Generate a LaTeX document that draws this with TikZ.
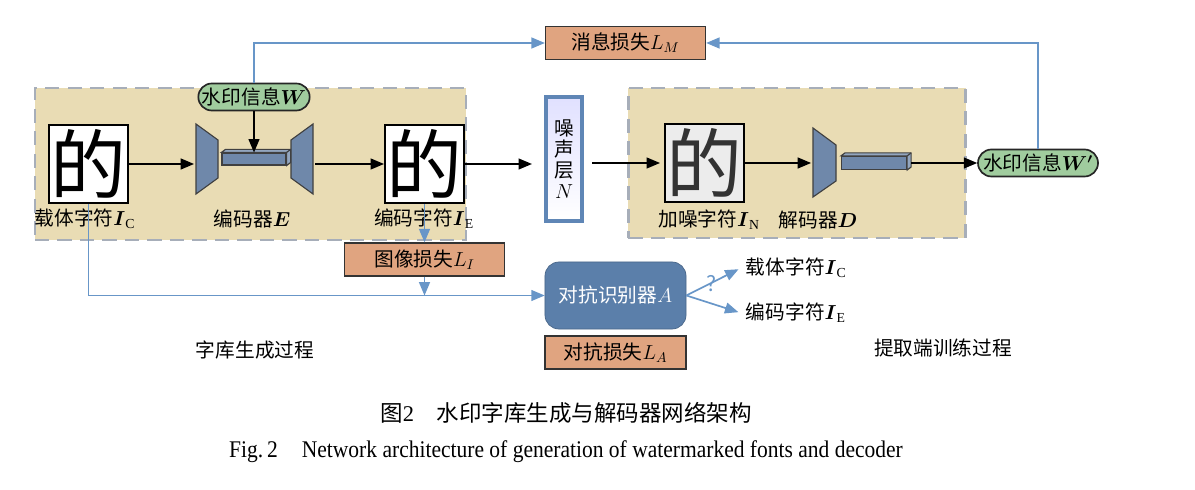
\documentclass[tikz,border=0pt]{standalone}
\usepackage{amsmath}
\usepackage{amssymb}
\usepackage{fontspec}
\setmainfont{Liberation Serif}
\newfontfamily\cjk{Noto Sans CJK SC}
\newfontfamily\engfont[FakeStretch=0.9]{Liberation Serif}
\usepackage{tikz}
\usetikzlibrary{calc}
\usetikzlibrary{positioning}
\usetikzlibrary{shapes}
\usetikzlibrary{arrows}

\definecolor{panelfill}{HTML}{E9DCB4}
\definecolor{panelline}{HTML}{A7AEB9}
\definecolor{lossfill}{HTML}{E0A480}
\definecolor{infofill}{HTML}{A0CC9E}
\definecolor{netblue}{HTML}{6F88AA}
\definecolor{linkblue}{HTML}{6896C8}
\definecolor{advblue}{HTML}{5B7FAA}
\definecolor{noiseline}{HTML}{5F86B6}

\newcommand{\bI}[1]{$\boldsymbol{I}_{\mathrm{#1}}$}

\begin{document}
\begin{tikzpicture}[x=0.025cm, y=-0.025cm,
	every node/.style={font=\cjk\fontsize{14}{16}\selectfont},
	panel/.style={rectangle, draw=panelline, fill=panelfill, line width=2pt, dash pattern=on 10pt off 6pt},
	glyph/.style={rectangle, draw, line width=1.5pt, fill=white, minimum width=1.975cm, minimum height=1.95cm, inner sep=0pt, font=\cjk\fontsize{54}{54}\selectfont},
	loss/.style={rectangle, draw=black!80, line width=1pt, fill=lossfill, minimum width=4cm, minimum height=0.825cm, inner sep=0pt},
	info/.style={rounded rectangle, draw=black!85, line width=1.2pt, fill=infofill, minimum height=0.675cm, inner xsep=0pt, inner ysep=0pt},
	net/.style={draw=black!75, fill=netblue, line width=0.8pt},
	vecbar/.style={rectangle, draw=black!75, fill=netblue, line width=0.8pt, inner sep=0pt},
	noisebox/.style={rectangle, draw=noiseline, line width=3pt, top color=blue!12!white, bottom color=white, minimum width=0.9cm, minimum height=3.1cm, align=center, inner sep=0pt, font=\cjk\fontsize{14}{15}\selectfont},
	adv/.style={rectangle, rounded corners=0.35cm, fill=advblue, draw=advblue!80!black, line width=0.5pt, text=white, minimum width=3.525cm, minimum height=1.675cm},
	flow/.style={line width=1.2pt, -triangle 45},
	link/.style={draw=linkblue, line width=1.2pt, -triangle 45}]
	\useasboundingbox (0,0) rectangle (1195,490);

	\node[panel, minimum width=10.775cm, minimum height=3.8cm] (gen) at (250.5,164) {};
	\node[panel, minimum width=8.425cm, minimum height=3.75cm] (ext) at (797,163) {};

	\node[glyph] (car) at (88.5,164) {的};
	\node[glyph] (wmk) at (424.5,164) {的};
	\node[glyph, fill=gray!15, text=black!80] (noisy) at (704.5,163) {的};
	\node[noisebox] (noise) at (564,159) {噪\\声\\层\\$N$};

	\filldraw[net] (196,124) -- (218,140) -- (218,178) -- (196,194) -- cycle;
	\filldraw[net] (291,140) -- (313,124) -- (313,194) -- (291,178) -- cycle;
	\filldraw[net] (813,128) -- (836,145) -- (836,181) -- (813,197) -- cycle;
	\coordinate (encin) at (194,162);
	\coordinate (encout) at (315,162);
	\coordinate (decin) at (811,163);

	\node[vecbar, minimum width=1.6cm, minimum height=0.3cm] (ebar) at (254,159) {};
	\filldraw[net, fill=netblue!75!white] (ebar.north west) -- ++(4,-3) -| ($(ebar.south east)+(4,-3)$) -- (ebar.south east) -- (ebar.north east) -- cycle;
	\draw[black!75, line width=0.8pt] (ebar.north east) -- ++(4,-3);
	\node[vecbar, minimum width=1.625cm, minimum height=0.325cm] (dbar) at (874,163) {};
	\filldraw[net, fill=netblue!75!white] (dbar.north west) -- ++(4,-3) -| ($(dbar.south east)+(4,-3)$) -- (dbar.south east) -- (dbar.north east) -- cycle;
	\draw[black!75, line width=0.8pt] (dbar.north east) -- ++(4,-3);

	\node[info, minimum width=2.575cm] (wm) at (254,97) {水印信息$\boldsymbol{W}$};
	\node[info, minimum width=3cm] (wm2) at (1038,163) {水印信息$\boldsymbol{W'}$};
	\node[loss] (lm) at (625.5,43) {消息损失$L_M$};
	\node[loss] (li) at (424.5,259.5) {图像损失$L_I$};
	\node[adv] (adv) at (615.5,295.5) {对抗识别器$A$};
	\node[loss, minimum width=3.525cm] (la) at (615.5,352.5) {对抗损失$L_A$};

	\node (carlbl) at (85,219) {载体字符\bI{C}};
	\node (enclbl) at (252,219) {编码器$\boldsymbol{E}$};
	\node (wmklbl) at (424,219) {编码字符\bI{E}};
	\node (noisylbl) at (709,220) {加噪字符\bI{N}};
	\node (declbl) at (818,220) {解码器$\boldsymbol{D}$};
	\node[anchor=west] (tc) at (741,268) {载体字符\bI{C}};
	\node[anchor=west] (te) at (741,313) {编码字符\bI{E}};
	\node[text=linkblue, font=\cjk\fontsize{15}{15}\selectfont] (q) at (711,284) {?};
	\node (genlbl) at (255,350) {字库生成过程};
	\node (extlbl) at (943,348) {提取端训练过程};

	\draw[flow] (car.east) -- (car.east -| encin);
	\draw[flow] (encout |- wmk.west) -- (wmk.west);
	\draw[flow, shorten >=0.3cm] (wmk.east) -- (wmk.east -| noise.west);
	\draw[flow, shorten <=0.2cm, shorten >=0.1cm] (noisy.west -| noise.east) -- (noisy.west);
	\draw[flow] (noisy.east) -- (noisy.east -| decin);
	\draw[flow, shorten <=0.1cm] (dbar.east) -- (wm2.west);
	\draw[flow] (wm.south) -- (ebar.north);

	\draw[link] (wm.north) |- (lm.west);
	\draw[link] (wm2.north) |- (lm.east);
	\draw[link] (car.south) |- (adv.west);
	\draw[link] (wmk.south) -- (li.north);
	\draw[link] (li.south) -- (li.south |- adv.west);
	\draw[link, shorten >=2pt] (adv.east) -- (tc.west);
	\draw[link, shorten >=2pt] (adv.east) -- (te.west);

	\node[font=\cjk\fontsize{16}{18}\selectfont] (cap) at (566,413) {图{\rmfamily 2}\hspace{1em}水印字库生成与解码器网络架构};
	\node[font=\engfont\fontsize{17}{19}\selectfont] (capen) at (566,452) {Fig.\,2\quad Network architecture of generation of watermarked fonts and decoder};
\end{tikzpicture}
\end{document}
